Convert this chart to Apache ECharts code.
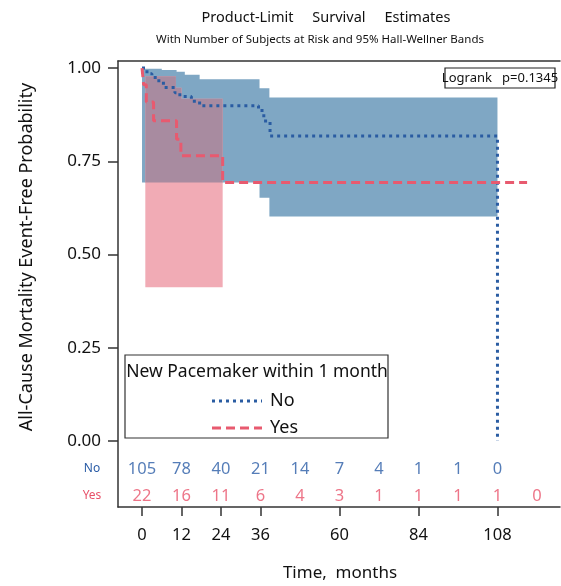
<!DOCTYPE html>
<html><head><meta charset="utf-8">
<script src="https://cdn.jsdelivr.net/npm/echarts@6/dist/echarts.min.js"></script>
<style>html,body{margin:0;padding:0;background:#fff}#c{width:561px;height:586px}</style>
</head><body><div id="c"></div>
<script>
// ---- data ----
const xTicks = [0, 12, 24, 36, 60, 84, 108];
const yTicks = [0, 0.25, 0.5, 0.75, 1];

// Kaplan-Meier curve, group "No"
const noTime = [0, 1.5, 3, 4.5, 6.5, 10, 11.5, 15, 17.5, 35.4, 37, 38.9, 108];
const noSurv = [1, 0.985, 0.975, 0.966, 0.948, 0.934, 0.924, 0.911, 0.899, 0.886, 0.858, 0.818, 0];
// Kaplan-Meier curve, group "Yes"
const yesTime = [0, 0.5, 1.3, 3.5, 10.5, 11.8, 24.5, 117];
const yesSurv = [1, 0.955, 0.909, 0.859, 0.809, 0.765, 0.693, 0.693];

// Hall-Wellner bands (value holds from time[i] to time[i+1])
const bandNoT  = [0, 6, 10.5, 13, 17.5, 35.7, 38.7, 108];
const bandNoHi = [0.998, 0.995, 0.99, 0.982, 0.97, 0.946, 0.921, 0.921];
const bandNoLo = [0.693, 0.693, 0.693, 0.693, 0.693, 0.652, 0.602, 0.602];
const bandYesT  = [1, 10.3, 12, 24.5];
const bandYesHi = [0.978, 0.947, 0.918, 0.918];
const bandYesLo = [0.412, 0.412, 0.412, 0.412];

// number at risk
const riskTimes = [0, 12, 24, 36, 48, 60, 72, 84, 96, 108, 120];
const riskNo  = [105, 78, 40, 21, 14, 7, 4, 1, 1, 0];
const riskYes = [22, 16, 11, 6, 4, 3, 1, 1, 1, 1, 0];

// ---- styling constants ----
const BLUE_LINE = '#2a5ca2', RED_LINE = '#e85a6f';
const BLUE_TXT = '#2a5ca6', RED_TXT = '#e8526a';
const BLUE_BAND = '#7fa7c4', PINK_BAND = '#f1abb5', OVER_BAND = '#a88ba0';
const AX = '#333';
const FONT = 'Noto Sans';
const ROW_NO = -0.075, ROW_YES = -0.147;

// ---- helpers ----
function last(a) { return a[a.length - 1]; }
function stepAt(T, V, t) { let v = V[0]; for (let i = 0; i < T.length; i++) if (T[i] <= t) v = V[i]; return v; }
const oStart = Math.max(bandNoT[0], bandYesT[0]);
const oEnd = Math.min(last(bandNoT), last(bandYesT));
const overT = Array.from(new Set(bandNoT.concat(bandYesT).filter(t => t >= oStart && t <= oEnd))).sort((a, b) => a - b);
const overHi = overT.map(t => Math.min(stepAt(bandNoT, bandNoHi, t), stepAt(bandYesT, bandYesHi, t)));
const overLo = overT.map(t => Math.max(stepAt(bandNoT, bandNoLo, t), stepAt(bandYesT, bandYesLo, t)));

function bandSeries(T, hi, lo, color, z) {
  return {
    type: 'custom', coordinateSystem: 'cartesian2d', silent: true, z: z,
    data: [[T[0], lo[0]]],
    renderItem: function (params, api) {
      const pts = [];
      for (let i = 0; i < T.length - 1; i++) {
        pts.push(api.coord([T[i], hi[i]]));
        pts.push(api.coord([T[i + 1], hi[i]]));
      }
      for (let i = T.length - 2; i >= 0; i--) {
        pts.push(api.coord([T[i + 1], lo[i]]));
        pts.push(api.coord([T[i], lo[i]]));
      }
      return { type: 'polygon', shape: { points: pts }, style: { fill: color } };
    }
  };
}
function riskSeries(vals, rowY, color) {
  return {
    type: 'scatter', silent: true, z: 5, symbol: 'rect', symbolSize: 1,
    itemStyle: { color: 'rgba(0,0,0,0)' },
    data: vals.map((n, i) => [riskTimes[i], rowY, n]),
    label: { show: true, position: 'inside', formatter: p => String(p.value[2]),
      color: color, fontSize: 16.5, fontFamily: FONT }
  };
}

const chart = echarts.init(document.getElementById('c'), null, { renderer: 'canvas' });
chart.setOption({
  backgroundColor: '#fff',
  animation: false,
  grid: { left: 118, right: 1, top: 61, bottom: 79, containLabel: false, outerBoundsMode: 'none' },
  xAxis: [{
    type: 'value', min: -7.3, max: 127, position: 'bottom',
    axisLine: { onZero: false, lineStyle: { color: AX, width: 1.5 } },
    axisTick: { customValues: xTicks, length: 9, lineStyle: { color: AX, width: 1.5 } },
    axisLabel: { customValues: xTicks, fontSize: 16.5, color: '#111', margin: 20, fontFamily: FONT },
    splitLine: { show: false }
  }, {
    type: 'value', min: -7.3, max: 127, position: 'top',
    axisLine: { show: true, onZero: false, lineStyle: { color: AX, width: 1.5 } },
    axisTick: { show: false }, axisLabel: { show: false }, splitLine: { show: false }
  }],
  yAxis: {
    type: 'value', min: -0.177, max: 1.019,
    axisLine: { show: true, onZero: false, lineStyle: { color: AX, width: 1.5 } },
    axisTick: { show: true, customValues: yTicks, length: 10, lineStyle: { color: AX, width: 1.5 } },
    axisLabel: { customValues: yTicks, formatter: v => v.toFixed(2), fontSize: 17, color: '#111', margin: 17, fontFamily: FONT },
    splitLine: { show: false }
  },
  series: [
    bandSeries(bandNoT, bandNoHi, bandNoLo, BLUE_BAND, 1),
    bandSeries(bandYesT, bandYesHi, bandYesLo, PINK_BAND, 1),
    bandSeries(overT, overHi, overLo, OVER_BAND, 1),
    { type: 'line', step: 'end', showSymbol: false, silent: true, z: 3,
      data: noTime.map((t, i) => [t, noSurv[i]]),
      lineStyle: { color: BLUE_LINE, width: 3, type: [3, 4] } },
    { type: 'line', step: 'end', showSymbol: false, silent: true, z: 4,
      data: yesTime.map((t, i) => [t, yesSurv[i]]),
      lineStyle: { color: RED_LINE, width: 3, type: [9, 5] } },
    riskSeries(riskNo, ROW_NO, BLUE_TXT),
    riskSeries(riskYes, ROW_YES, RED_TXT)
  ],
  graphic: [
    { type: 'text', style: { x: 326, y: 18, text: 'Product-Limit     Survival     Estimates', fontSize: 14.5, fontFamily: FONT, fill: '#111', align: 'center', verticalAlign: 'middle' } },
    { type: 'text', style: { x: 320, y: 40, text: 'With Number of Subjects at Risk and 95% Hall-Wellner Bands', fontSize: 11.5, fontFamily: FONT, fill: '#111', align: 'center', verticalAlign: 'middle' } },
    { type: 'text', x: 27, y: 257, rotation: Math.PI / 2, style: { x: 0, y: 0, text: 'All-Cause Mortality Event-Free Probability', fontSize: 18, fontFamily: FONT, fill: '#111', align: 'center', verticalAlign: 'middle' } },
    { type: 'text', style: { x: 340, y: 573, text: 'Time,  months', fontSize: 17, fontFamily: FONT, fill: '#111', align: 'center', verticalAlign: 'middle' } },
    { type: 'text', style: { x: 92, y: 469, text: 'No', fontSize: 12, fontFamily: FONT, fill: BLUE_TXT, align: 'center', verticalAlign: 'middle' } },
    { type: 'text', style: { x: 92, y: 496, text: 'Yes', fontSize: 12, fontFamily: FONT, fill: RED_TXT, align: 'center', verticalAlign: 'middle' } },
    { type: 'rect', z: 10, shape: { x: 445, y: 68, width: 110, height: 20 }, style: { fill: '#fff', stroke: '#222', lineWidth: 1.2 } },
    { type: 'text', z: 11, style: { x: 500, y: 78, text: 'Logrank   p=0.1345', fontSize: 13, fontFamily: FONT, fill: '#111', align: 'center', verticalAlign: 'middle' } },
    { type: 'rect', z: 10, shape: { x: 125, y: 355, width: 263, height: 83 }, style: { fill: '#fff', stroke: '#333', lineWidth: 1.2 } },
    { type: 'text', z: 11, style: { x: 257, y: 372, text: 'New Pacemaker within 1 month', fontSize: 17.5, fontFamily: FONT, fill: '#111', align: 'center', verticalAlign: 'middle' } },
    { type: 'line', z: 11, shape: { x1: 212, y1: 401, x2: 262, y2: 401 }, style: { stroke: BLUE_LINE, lineWidth: 3, lineDash: [3, 4] } },
    { type: 'text', z: 11, style: { x: 270, y: 401, text: 'No', fontSize: 18, fontFamily: FONT, fill: '#111', align: 'left', verticalAlign: 'middle' } },
    { type: 'line', z: 11, shape: { x1: 212, y1: 428, x2: 262, y2: 428 }, style: { stroke: RED_LINE, lineWidth: 3, lineDash: [9, 5] } },
    { type: 'text', z: 11, style: { x: 270, y: 428, text: 'Yes', fontSize: 18, fontFamily: FONT, fill: '#111', align: 'left', verticalAlign: 'middle' } }
  ]
});
</script></body></html>
